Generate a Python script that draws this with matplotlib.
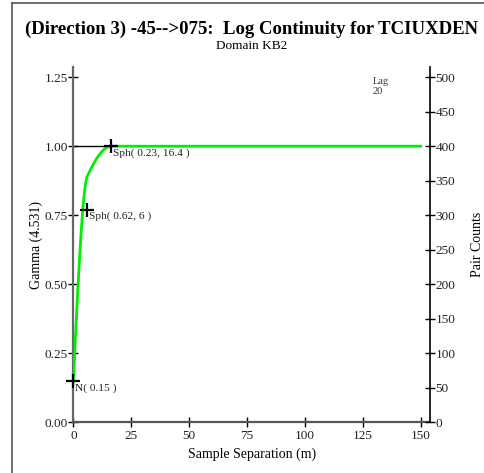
import numpy as np
import matplotlib
matplotlib.use("Agg")
import matplotlib.pyplot as plt
from matplotlib.lines import Line2D

plt.rcParams['font.family'] = ['Liberation Serif', 'DejaVu Serif']

# Variogram model: nugget plus nested spherical structures (sill, range)
nugget = 0.15
sph_sills = [0.62, 0.23]
sph_ranges = [6.0, 16.4]
lag_count = 20
sigma2 = 4.531

x_ticks = [0, 25, 50, 75, 100, 125, 150]
y_ticks = [0.00, 0.25, 0.50, 0.75, 1.00, 1.25]
pair_ticks = [0, 50, 100, 150, 200, 250, 300, 350, 400, 450, 500]


def spherical(h, a):
    r = np.clip(h / a, 0, 1)
    return 1.5 * r - 0.5 * r ** 3


h = np.linspace(0, 150, 1501)
gamma = np.full_like(h, nugget)
for c, a in zip(sph_sills, sph_ranges):
    gamma += c * spherical(h, a)

fig = plt.figure(figsize=(4.85, 4.73), dpi=100)
ax = fig.add_axes([0.1512, 0.1072, 0.8866 - 0.1512, 0.8584 - 0.1072])

ax.set_xlim(0, 154)
ax.set_ylim(0, 1.287)

total_sill = nugget + sum(sph_sills)
ax.plot([0, sph_ranges[-1]], [total_sill, total_sill], color='black', lw=1.0, zorder=2)
ax.plot(h, gamma, color='#00ee00', lw=2.0, zorder=3)

# Structure markers and labels
pts_x = [0.0]
pts_y = [nugget]
labels = [f"N( {nugget:.2f} )"]
cum = nugget
for c, a in zip(sph_sills, sph_ranges):
    cum += c
    pts_x.append(a)
    pts_y.append(cum)
    labels.append(f"Sph( {c:.2f}, {a:g} )")
ax.plot(pts_x, pts_y, linestyle='none', marker='+', markersize=10,
        markeredgewidth=1.6, color='black', zorder=5, clip_on=False)
for px, py, lab in zip(pts_x, pts_y, labels):
    ax.annotate(lab, (px, py), xytext=(1, -1.5), textcoords='offset points',
                ha='left', va='top', fontsize=8.2, color='#222222')

ax.set_xticks(x_ticks)
ax.set_yticks(y_ticks)
ax.set_xticklabels([str(t) for t in x_ticks])
ax.set_yticklabels([f"{t:.2f}" for t in y_ticks])
ax.tick_params(axis='both', direction='inout', length=7, width=1.0,
               labelsize=9.5, color='black', labelcolor='#222222', pad=0.5)
ax.tick_params(axis='x', pad=2)

ax.spines['top'].set_visible(False)
ax.spines['left'].set_color('#666666')
ax.spines['left'].set_linewidth(1.6)
ax.spines['bottom'].set_color('#555555')
ax.spines['bottom'].set_linewidth(1.6)
ax.spines['right'].set_visible(False)

ax.set_xlabel("Sample Separation (m)", fontsize=10, labelpad=4)
ax.set_ylabel(f"Gamma ({sigma2:.3f})", fontsize=10, labelpad=1)

ax2 = ax.twinx()
ax2.set_ylim(0, 1.287 * 400)
ax2.set_yticks(pair_ticks)
ax2.set_yticklabels([str(t) for t in pair_ticks])
ax2.tick_params(axis='y', direction='inout', length=7, width=1.0,
                labelsize=9.5, color='black', labelcolor='#222222', pad=0.5)
for side in ('top', 'left', 'bottom'):
    ax2.spines[side].set_visible(False)
ax2.spines['right'].set_color('black')
ax2.spines['right'].set_linewidth(1.2)
ax2.set_ylabel("Pair Counts", fontsize=10, labelpad=11)

ax.text(0.840, 0.972, f"Lag\n{lag_count}", transform=ax.transAxes,
        fontsize=7.5, ha='left', va='top', color='#333333', linespacing=1.2)

fig.text(0.518, 0.939, "(Direction 3) -45-->075:  Log Continuity for TCIUXDEN",
         ha='center', va='center', fontsize=13.5, fontweight='bold')
fig.text(0.518, 0.902, "Domain KB2", ha='center', va='center', fontsize=9.5)

# Page frame lines
fig.add_artist(Line2D([12 / 485, 12 / 485], [0, 1 - 3 / 473], transform=fig.transFigure,
                      color='#555555', lw=1.2))
fig.add_artist(Line2D([12 / 485, 1], [1 - 3.5 / 473, 1 - 3.5 / 473], transform=fig.transFigure,
                      color='#555555', lw=1.2))

fig.savefig("out.png", dpi=100)
